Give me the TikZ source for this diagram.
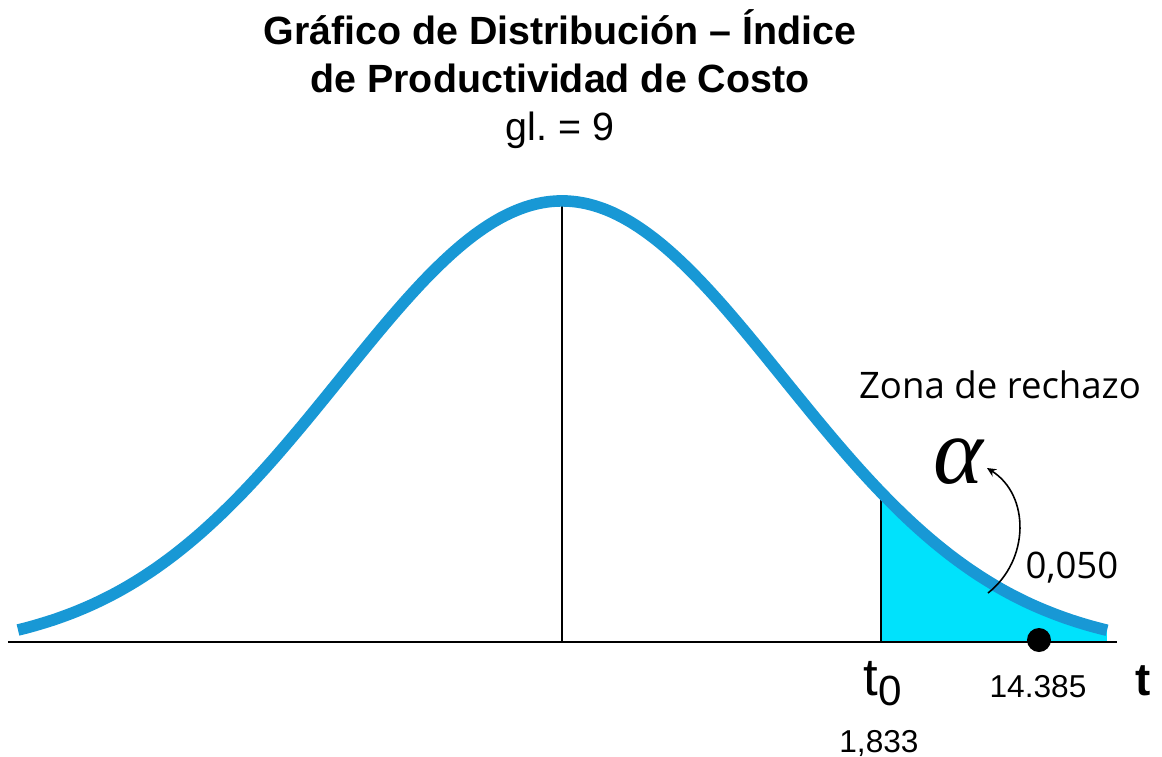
\documentclass[tikz,border=0pt]{standalone}
\usepackage{fontspec}
\setmainfont{Liberation Sans}
\newfontfamily\zonafont{Open Sans}
\newfontfamily\greekfont{Liberation Serif}
\usetikzlibrary{arrows.meta}
\definecolor{curveblue}{RGB}{24,152,213}
\definecolor{zonecyan}{RGB}{0,226,252}
\tikzset{
  curveline/.style={draw=curveblue, line width=3.3pt},
  thinline/.style={draw=black, line width=0.6pt},
  zonalabel/.style={font=\zonafont\fontsize{10.4}{12}\selectfont, anchor=base},
  numlabel/.style={font=\fontsize{9}{11}\selectfont, anchor=base}
}
\begin{document}
\begin{tikzpicture}[x=0.01cm, y=-0.01cm,
    declare function={dens(\t)=642-(-10+451*exp(-((\t-562)/313.05)^2));}]
    \useasboundingbox (0,0) rectangle (1162,757);
    % title
    \node[align=center, anchor=base, font=\fontsize{11.2}{13.6}\selectfont] (title) at (560,140)
      {\textbf{Gráfico de Distribución – Índice}\\\textbf{de Productividad de Costo}\\gl.\ = 9};
    % rejection zone
    \fill[zonecyan] (881,642) -- plot[domain=881:1107, samples=40] (\x,{dens(\x)}) -- (1107,642) -- cycle;
    \draw[thinline] (8,642) -- (1117,642);
    \draw[thinline] (562,205) -- (562,642);
    \draw[thinline] (881,490) -- (881,642);
    \draw[curveline] plot[domain=18:1107, samples=120, smooth] (\x,{dens(\x)});
    \fill[black] (1039,640) circle[radius=12];
    % labels
    \node[zonalabel] (zona) at (1000,398) {Zona de rechazo};
    \node[anchor=base, font=\greekfont\itshape\fontsize{27}{27}\selectfont] (alpha) at (958,483) {α};
    \node[zonalabel] (alphaval) at (1072,578) {0,050};
    \coordinate (alphaTail) at (988,593);
    \coordinate (alphaTip) at (987,468);
    \draw[line width=0.45pt, -{Stealth[length=2.6pt, width=2.4pt]}]
      (alphaTail) .. controls (1030,560) and (1030,495) .. (alphaTip);
    \node[anchor=base, font=\fontsize{15}{15}\selectfont, inner sep=0pt] (tzero) at (883,695)
      {t\raisebox{-0.2em}{\fontsize{12}{12}\selectfont 0}};
    \node[numlabel] (tzeroval) at (879,752) {1,833};
    \node[numlabel] (tcalc) at (1038,697) {14.385};
    \node[anchor=base, font=\bfseries\fontsize{13}{13}\selectfont] (taxis) at (1143,695) {t};
  \end{tikzpicture}
\end{document}
